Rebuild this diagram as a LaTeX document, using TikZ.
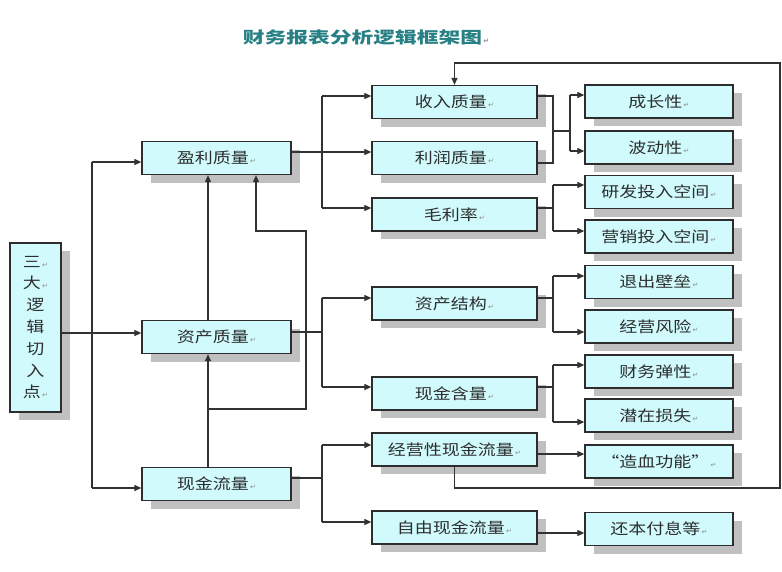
\documentclass[tikz,border=0pt]{standalone}
\usepackage{fontspec}
\newfontfamily\cjk[FakeStretch=1.2]{Noto Sans CJK SC}
\newfontfamily\cjkt[FakeStretch=1.36]{Noto Sans CJK SC}
\newfontfamily\dejavu{DejaVu Sans}
\usetikzlibrary{shadows,arrows.meta,calc}
\definecolor{boxfill}{RGB}{208,250,252}
\definecolor{boxline}{RGB}{45,45,45}
\definecolor{shadowc}{RGB}{192,192,192}
\definecolor{linec}{RGB}{50,50,50}
\definecolor{textc}{RGB}{45,45,45}
\definecolor{titlec}{RGB}{38,128,132}
\definecolor{retc}{RGB}{140,140,140}
\newcommand\retmark{{\dejavu\fontsize{7}{7}\selectfont\color{retc}\,↵}}
\begin{document}
\begin{tikzpicture}[x=1pt,y=-1pt,
 box/.style={draw=boxline,line width=1.3pt,fill=boxfill,text=textc,inner sep=0pt,minimum height=33pt,font=\cjk\fontsize{15}{18}\selectfont,drop shadow={shadow xshift=9pt,shadow yshift=-8pt,fill=shadowc,opacity=1}},
 lbox/.style={box,minimum width=149pt},
 mbox/.style={box,minimum width=165pt},
 rbox/.style={box,minimum width=148pt},
 ln/.style={draw=linec,line width=1.2pt},
 arr/.style={ln,-{Triangle[length=7pt,width=6pt]}}]
\fill[white] (0,0) rectangle (782,571);
\useasboundingbox (0,0) rectangle (782,571);

\node[font=\cjkt\bfseries\fontsize{16}{18}\selectfont,text=titlec] (title) at (366,37) {财务报表分析逻辑框架图\retmark};

% left column
\node[box,minimum width=51pt,minimum height=169pt,align=center,font=\cjk\fontsize{15}{21.8}\selectfont] (sj) at (35.5,327.5) {三\retmark\\大\retmark\\逻\\辑\\切\\入\\点\retmark};
\node[lbox] (yl) at (216.5,158) {盈利质量\retmark};
\node[lbox] (zc) at (216.5,337) {资产质量\retmark};
\node[lbox] (xj) at (216.5,484) {现金流量\retmark};

% middle column
\node[mbox] (sr) at (454.5,102) {收入质量\retmark};
\node[mbox] (lr) at (454.5,158) {利润质量\retmark};
\node[mbox] (ml) at (454.5,214.5) {毛利率\retmark};
\node[mbox] (jg) at (454.5,303.5) {资产结构\retmark};
\node[mbox] (hl) at (454.5,393.5) {现金含量\retmark};
\node[mbox] (jy) at (454.5,449.5) {经营性现金流量\retmark};
\node[mbox] (zy) at (454.5,527.5) {自由现金流量\retmark};

% right column
\node[rbox] (cz) at (659,101.5) {成长性\retmark};
\node[rbox] (bd) at (659,147.5) {波动性\retmark};
\node[rbox] (yf) at (659,192) {研发投入空间\retmark};
\node[rbox] (yx) at (659,236.5) {营销投入空间\retmark};
\node[rbox] (tc) at (659,282) {退出壁垒\retmark};
\node[rbox] (fx) at (659,326.5) {经营风险\retmark};
\node[rbox] (tx) at (659,371.5) {财务弹性\retmark};
\node[rbox] (ss) at (659,415.5) {潜在损失\retmark};
\node[rbox] (zx) at (659,461.5) {“造血功能”\retmark};
\node[rbox] (hb) at (659,529) {还本付息等\retmark};

% trunk
\coordinate (p1) at (92,162);
\coordinate (p2) at (92,488);
\coordinate (p0) at (92,333);
\draw[ln] (p1) -- (p2);
\draw[arr] (p1) -- (yl.west |- p1);
\draw[arr] (p2) -- (xj.west |- p2);
\draw[arr] (sj.east |- p0) -- (zc.west |- p0);

% upward links
\coordinate (v1) at (208,409);
\coordinate (v2) at (306,409);
\coordinate (v3) at (306,231);
\coordinate (v4) at (256,231);
\draw[arr] (xj.north -| v1) -- (zc.south -| v1);
\draw[arr] (zc.north -| v1) -- (yl.south -| v1);
\draw[arr] (v1) -- (v2) -- (v3) -- (v4) -- (yl.south -| v4);

% top group
\coordinate (a0) at (322,152);
\coordinate (a1) at (322,96);
\coordinate (a3) at (322,208);
\draw[ln] (yl.east |- a0) -- (a0);
\draw[ln] (a1) -- (a3);
\draw[arr] (a1) -- (sr.west |- a1);
\draw[arr] (a0) -- (lr.west |- a0);
\draw[arr] (a3) -- (ml.west |- a3);

% middle group
\coordinate (b0) at (322,332);
\coordinate (b1) at (322,298);
\coordinate (b2) at (322,387);
\draw[ln] (zc.east |- b0) -- (b0);
\draw[ln] (b1) -- (b2);
\draw[arr] (b1) -- (jg.west |- b1);
\draw[arr] (b2) -- (hl.west |- b2);

% bottom group
\coordinate (c0) at (322,478);
\coordinate (c1) at (322,445);
\coordinate (c2) at (322,522);
\draw[ln] (xj.east |- c0) -- (c0);
\draw[ln] (c1) -- (c2);
\draw[arr] (c1) -- (jy.west |- c1);
\draw[arr] (c2) -- (zy.west |- c2);

% right groups
\coordinate (d1) at (553,96);
\coordinate (d2) at (553,163);
\coordinate (d0) at (553,131);
\coordinate (d3) at (570,131);
\coordinate (d4) at (570,95);
\coordinate (d5) at (570,151);
\draw[ln] (sr.east |- d1) -- (d1) -- (d2) -- (lr.east |- d2);
\draw[ln] (d0) -- (d3);
\draw[ln] (d4) -- (d5);
\draw[arr] (d4) -- (cz.west |- d4);
\draw[arr] (d5) -- (bd.west |- d5);

\coordinate (e0) at (553,208);
\coordinate (e1) at (553,185);
\coordinate (e2) at (553,231);
\draw[ln] (ml.east |- e0) -- (e0);
\draw[ln] (e1) -- (e2);
\draw[arr] (e1) -- (yf.west |- e1);
\draw[arr] (e2) -- (yx.west |- e2);

\coordinate (f0) at (553,298);
\coordinate (f1) at (553,276);
\coordinate (f2) at (553,332);
\draw[ln] (jg.east |- f0) -- (f0);
\draw[ln] (f1) -- (f2);
\draw[arr] (f1) -- (tc.west |- f1);
\draw[arr] (f2) -- (fx.west |- f2);

\coordinate (g0) at (553,387);
\coordinate (g1) at (553,365);
\coordinate (g2) at (553,422);
\draw[ln] (hl.east |- g0) -- (g0);
\draw[ln] (g1) -- (g2);
\draw[arr] (g1) -- (tx.west |- g1);
\draw[arr] (g2) -- (ss.west |- g2);

\coordinate (h1) at (560,454);
\coordinate (h2) at (560,533);
\draw[arr] (jy.east |- h1) -- (zx.west |- h1);
\draw[arr] (zy.east |- h2) -- (hb.west |- h2);

% feedback loop
\coordinate (fb1) at (780,488);
\coordinate (fb2) at (780,63);
\draw[arr] (jy.south) |- (fb1) -- (fb2) -| (sr.north);
\end{tikzpicture}
\end{document}
